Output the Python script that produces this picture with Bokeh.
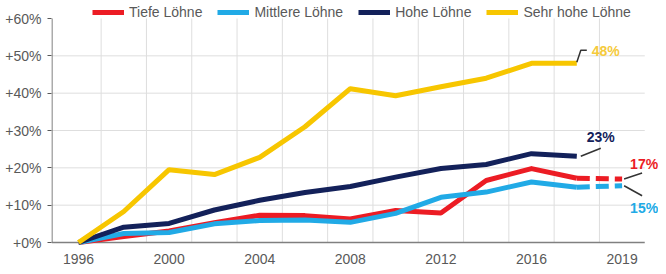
from bokeh.plotting import figure
from bokeh.models import (Range1d, FixedTicker, Legend, LegendItem, LabelSet,
                          ColumnDataSource)
from bokeh.core.properties import value
from bokeh.embed import file_html
from bokeh.resources import INLINE

# ---------------- data ----------------
years = ["1996", "1998", "2000", "2002", "2004", "2006", "2008", "2010",
         "2012", "2014", "2016", "2018", "2019"]
tiefe = [0, 1.6, 3.1, 5.3, 7.3, 7.2, 6.3, 8.6, 7.9, 16.6, 19.8, 17.2, 17.0]
mittlere = [0, 2.4, 2.7, 5.0, 5.9, 6.0, 5.4, 7.8, 12.1, 13.5, 16.2, 14.8, 15.2]
hohe = [0, 4.1, 5.1, 8.7, 11.3, 13.4, 15.0, 17.5, 19.8, 20.9, 23.8, 23.1]
sehr_hohe = [0, 8.3, 19.5, 18.2, 22.8, 31.0, 41.2, 39.3, 41.7, 44.0, 48.0, 48.0]
series_names = ["Tiefe Löhne", "Mittlere Löhne", "Hohe Löhne", "Sehr hohe Löhne"]
y_ticks = [0, 10, 20, 30, 40, 50, 60]
y_tick_labels = ["+0%", "+10%", "+20%", "+30%", "+40%", "+50%", "+60%"]

# ---------------- style / layout ----------------
RED = "#EC1C24"
BLUE = "#21AAE6"
NAVY = "#13215A"
YELLOW = "#F7C600"
YELLOW_TXT = "#F5CA3C"
GRAY = "#595959"
GRID = "#DEDEDE"
FONT = "Liberation Sans"
LW = 5

W, H = 658, 266
BL = 51                  # left border (y axis labels)
TOP_PX = 18              # pixel row of the 60% line
AXIS_BOTTOM = 242        # pixel row of the 0% line
UNIT_PX = 45.3           # pixels per category
FIRST_PX = 78            # pixel column of the first category
Y_TOP = 60
px_y = Y_TOP / (AXIS_BOTTOM - TOP_PX)        # data units per pixel (y)
px_x = 1.0 / UNIT_PX                          # data units per pixel (x)
X_START = -(FIRST_PX - BL) * px_x
X_END = len(years) - 0.5
x_right = X_START + (W - BL) * px_x
y_top = Y_TOP + TOP_PX * px_y
y_bottom = -(H - AXIS_BOTTOM) * px_y

p = figure(width=W, height=H, output_backend="svg", toolbar_location=None,
           x_range=Range1d(X_START, x_right), y_range=Range1d(y_bottom, y_top),
           min_border_left=BL, min_border_right=0, min_border_top=0,
           min_border_bottom=0)
p.outline_line_color = None
p.background_fill_color = "white"
p.xgrid.visible = False
p.ygrid.visible = False
p.xaxis.visible = False

# manual grid lines (stay inside the chart area)
vx = [i + 0.5 for i in range(len(years) - 1)]
p.segment(x0=vx, y0=[0] * len(vx), x1=vx, y1=[Y_TOP] * len(vx),
          line_color=GRID, line_width=1)
hy = y_ticks[1:-1]
p.segment(x0=[X_START] * len(hy), y0=hy, x1=[X_END] * len(hy), y1=hy,
          line_color=GRID, line_width=1)

# y axis: ticks + labels from Bokeh, line drawn manually
ya = p.yaxis[0]
ya.ticker = FixedTicker(ticks=y_ticks)
ya.major_label_overrides = dict(zip(y_ticks, y_tick_labels))
ya.major_tick_out = 4
ya.major_tick_in = 0
ya.minor_tick_line_color = None
ya.major_tick_line_color = GRAY
ya.axis_line_color = None
ya.major_label_text_font = FONT
ya.major_label_text_font_size = "14px"
ya.major_label_text_color = GRAY
ya.major_label_standoff = 6
p.segment(x0=[X_START + 0.5 * px_x], y0=[0], x1=[X_START + 0.5 * px_x],
          y1=[Y_TOP], line_color=GRAY, line_width=1)

# x axis line and labels
p.segment(x0=[X_START], y0=[0], x1=[X_END], y1=[0], line_color="#808080",
          line_width=1.5)
tick_idx = list(range(0, len(years), 2))
p.text(x=tick_idx, y=[-16 * px_y] * len(tick_idx),
       text=[years[i] for i in tick_idx], text_font=value(FONT),
       text_font_size="14px", text_color=GRAY, text_align="center",
       text_baseline="middle")

# lines
idx = list(range(len(years)))
kw = dict(line_width=LW, line_join="round", line_cap="butt")
r_red = p.line(idx[:12], tiefe[:12], line_color=RED, **kw)
p.line(idx[11:13], tiefe[11:13], line_color=RED, line_dash="13 6", **kw)
r_blue = p.line(idx[:12], mittlere[:12], line_color=BLUE, **kw)
p.line(idx[11:13], mittlere[11:13], line_color=BLUE, line_dash="13 6", **kw)
r_navy = p.line(idx[:len(hohe)], hohe, line_color=NAVY, **kw)
r_yel = p.line(idx[:len(sehr_hohe)], sehr_hohe, line_color=YELLOW, **kw)

# leader lines (pixel offsets converted to data units)
LEAD = "#333333"
iy, vy = len(sehr_hohe) - 1, sehr_hohe[-1]
p.line([iy, iy + 4 * px_x, iy + 10 * px_x],
       [vy + 1 * px_y, vy + 13 * px_y, vy + 13 * px_y],
       line_color=LEAD, line_width=1.5)
inv, vn = len(hohe) - 1, hohe[-1]
p.segment(x0=[inv + 4 * px_x], y0=[vn], x1=[inv + 24 * px_x], y1=[vn + 8 * px_y],
          line_color=LEAD, line_width=1.5)
ir = len(tiefe) - 1
p.segment(x0=[ir + 2 * px_x, ir + 2 * px_x],
          y0=[tiefe[-1], mittlere[-1]],
          x1=[ir + 20 * px_x, ir + 20 * px_x],
          y1=[tiefe[-1] + 6 * px_y, mittlere[-1] - 10 * px_y],
          line_color=LEAD, line_width=1.5)

# end labels
lab_src = ColumnDataSource(dict(
    x=[iy, inv, ir, ir],
    y=[vy, vn, tiefe[-1], mittlere[-1]],
    text=[f"{round(v)}%" for v in (vy, vn, tiefe[-1], mittlere[-1])],
    color=[YELLOW_TXT, NAVY, RED, BLUE],
    xo=[15, 10, 8, 8],
    yo=[12, 19, 15, -22],
))
p.add_layout(LabelSet(x="x", y="y", text="text", source=lab_src,
                      x_offset="xo", y_offset="yo", text_color="color",
                      text_font=value(FONT), text_font_size="14px",
                      text_font_style="bold", text_baseline="middle",
                      text_align="left"))

# legend (inside the frame, near the canvas top)
LEG_H = 16
LEG_CENTER = 12
legend = Legend(items=[LegendItem(label=series_names[0], renderers=[r_red]),
                       LegendItem(label=series_names[1], renderers=[r_blue]),
                       LegendItem(label=series_names[2], renderers=[r_navy]),
                       LegendItem(label=series_names[3], renderers=[r_yel])],
                orientation="horizontal",
                location=(41, H - LEG_CENTER - LEG_H // 2),
                label_text_font=FONT, label_text_font_size="14px",
                label_text_color=GRAY, glyph_width=32, glyph_height=LEG_H,
                label_height=LEG_H, label_standoff=5, spacing=15, padding=0,
                margin=0, border_line_color=None, background_fill_alpha=0)
p.add_layout(legend, "center")

open("out.html", "w").write(file_html(p, INLINE))
